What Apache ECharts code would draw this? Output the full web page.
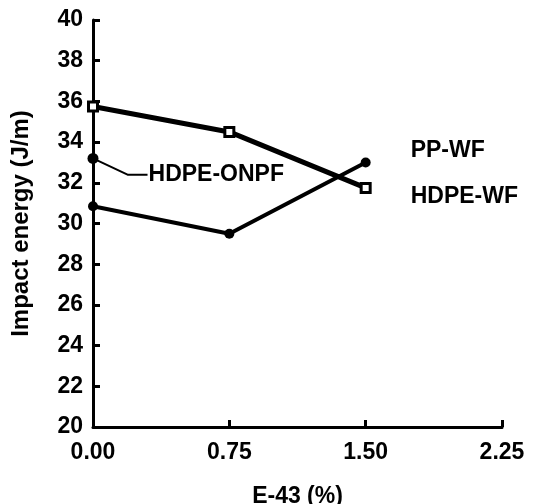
<!DOCTYPE html>
<html>
<head>
<meta charset="utf-8">
<script src="https://cdn.jsdelivr.net/npm/echarts@6/dist/echarts.min.js"></script>
<style>
  html, body { margin: 0; padding: 0; background: #fff; }
  #chart { width: 559px; height: 504px; }
</style>
</head>
<body>
<div id="chart"></div>
<script>
// E-43 content (%)
var xValues = [0, 0.75, 1.5];
var hdpeWF = [35.75, 34.5, 31.75];
var ppWF = [30.85, 29.5, 33.0];
// single HDPE-ONPF point and its leader line to the label
var hdpeONPF = [[0, 33.2]];
var onpfLeader = [[0, 33.2], [0.19, 32.4], [0.30, 32.4]];

var font = 'Liberation Sans, Arial, sans-serif';
var fs = 23;

function pairs(ys) {
    return xValues.map(function (x, i) { return [x, ys[i]]; });
}

var chart = echarts.init(document.getElementById('chart'));
chart.setOption({
    animation: false,
    backgroundColor: '#fff',
    grid: { left: 93, right: 57, top: 20, bottom: 77, containLabel: false, outerBoundsMode: 'none' },
    xAxis: {
        type: 'value',
        min: 0, max: 2.25, interval: 0.75,
        name: 'E-43 (%)',
        nameLocation: 'middle',
        nameGap: 58,
        nameTextStyle: { fontFamily: font, fontWeight: 'bold', fontSize: fs, color: '#000' },
        axisLine: { lineStyle: { color: '#000', width: 3 } },
        axisTick: { inside: true, length: 7, lineStyle: { color: '#000', width: 3 } },
        axisLabel: {
            formatter: function (v) { return v.toFixed(2); },
            fontFamily: font, fontWeight: 'bold', fontSize: fs, color: '#000', margin: 14
        },
        splitLine: { show: false }
    },
    yAxis: {
        type: 'value',
        min: 20, max: 40, interval: 2,
        name: 'Impact energy (J/m)',
        nameLocation: 'middle',
        nameGap: 60,
        nameTextStyle: { fontFamily: font, fontWeight: 'bold', fontSize: 24, color: '#000' },
        axisLine: { lineStyle: { color: '#000', width: 3 } },
        axisTick: { inside: true, length: 7, lineStyle: { color: '#000', width: 3 } },
        axisLabel: { fontFamily: font, fontWeight: 'bold', fontSize: fs, color: '#000', margin: 10 },
        splitLine: { show: false }
    },
    series: [
        {
            name: 'HDPE-WF',
            type: 'line',
            data: pairs(hdpeWF),
            symbol: 'rect',
            symbolSize: 9,
            lineStyle: { color: '#000', width: 5 },
            itemStyle: { color: '#fff', borderColor: '#000', borderWidth: 3 },
            endLabel: {
                show: true, formatter: 'HDPE-WF', offset: [37, 9],
                fontFamily: font, fontWeight: 'bold', fontSize: fs, color: '#000'
            },
            z: 3
        },
        {
            name: 'PP-WF',
            type: 'line',
            data: pairs(ppWF),
            symbol: 'circle',
            symbolSize: 10,
            lineStyle: { color: '#000', width: 4 },
            itemStyle: { color: '#000' },
            endLabel: {
                show: true, formatter: 'PP-WF', offset: [37, -12],
                fontFamily: font, fontWeight: 'bold', fontSize: fs, color: '#000'
            },
            z: 3
        },
        {
            name: 'HDPE-ONPF leader',
            type: 'line',
            data: onpfLeader,
            symbol: 'none',
            lineStyle: { color: '#000', width: 2 },
            endLabel: {
                show: true, formatter: 'HDPE-ONPF', distance: 1,
                fontFamily: font, fontWeight: 'bold', fontSize: fs, color: '#000'
            },
            z: 2
        },
        {
            name: 'HDPE-ONPF',
            type: 'scatter',
            data: hdpeONPF,
            symbol: 'circle',
            symbolSize: 11,
            itemStyle: { color: '#000', opacity: 1 },
            z: 4
        }
    ]
});
</script>
</body>
</html>
